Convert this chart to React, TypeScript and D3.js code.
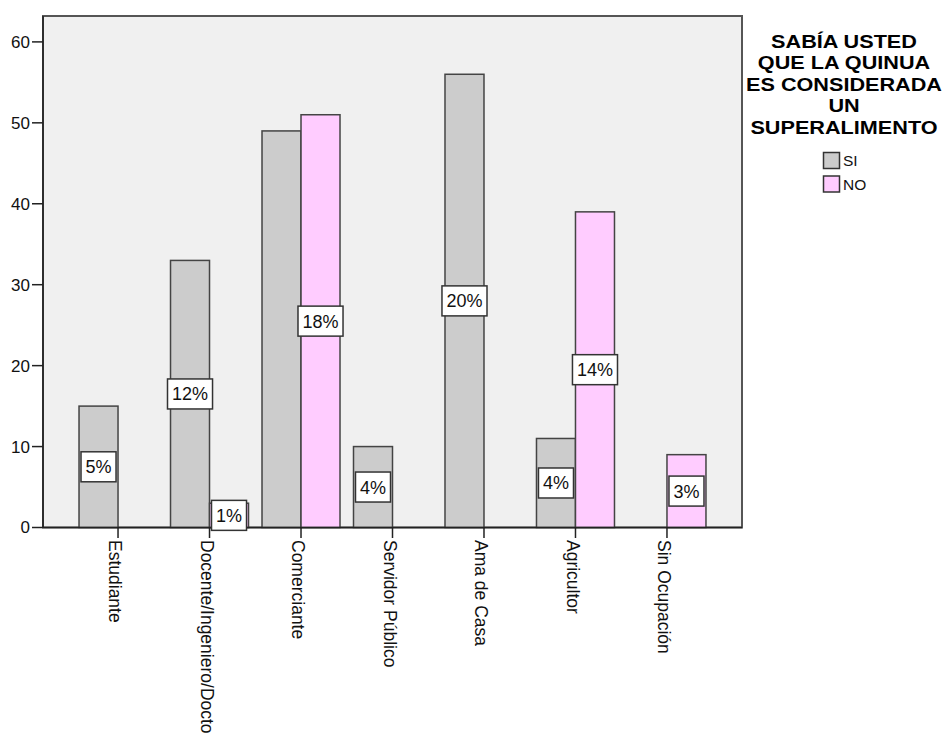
import React, { useEffect, useRef } from "react";
import * as d3 from "d3";

// Occupation categories and counts per answer
const categories = [
  "Estudiante",
  "Docente/Ingeniero/Docto",
  "Comerciante",
  "Servidor Público",
  "Ama de Casa",
  "Agricultor",
  "Sin Ocupación",
];
const siValues = [15, 33, 49, 10, 56, 11, 0];
const noValues = [0, 3, 51, 0, 0, 39, 9];
const seriesNames = ["SI", "NO"];
const yTicks = [0, 10, 20, 30, 40, 50, 60];
const legendTitle = ["SABÍA USTED", "QUE LA QUINUA", "ES CONSIDERADA", "UN", "SUPERALIMENTO"];

const W = 945;
const H = 740;
const FONT = "'Liberation Sans', Arial, sans-serif";

export default function App() {
  const ref = useRef<SVGSVGElement>(null);

  useEffect(() => {
    const svg = d3.select(ref.current);
    svg.selectAll("*").remove();

    const left = 43, right = 742, top = 16, bottom = 527.5;
    const barW = 39;

    const x = d3.scalePoint<string>().domain(categories).range([left, right]).padding(0.82);
    const y = d3.scaleLinear().domain([0, 63.2]).range([bottom, top]);

    const total = d3.sum(siValues) + d3.sum(noValues);
    const fills = ["#cccccc", "#ffccff"];

    // plot background and frame
    svg.append("rect")
      .attr("x", left).attr("y", top)
      .attr("width", right - left).attr("height", bottom - top)
      .attr("fill", "#f0f0f0").attr("stroke", "#555").attr("stroke-width", 2);

    // bars
    const series = [siValues, noValues];
    series.forEach((vals, si) => {
      svg.append("g").selectAll("rect")
        .data(categories.map((c, i) => ({ c, v: vals[i] })).filter((d) => d.v > 0))
        .join("rect")
        .attr("x", (d) => (x(d.c) as number) + (si === 0 ? -barW : 0))
        .attr("y", (d) => y(d.v))
        .attr("width", barW)
        .attr("height", (d) => bottom - y(d.v))
        .attr("fill", fills[si])
        .attr("stroke", "#444")
        .attr("stroke-width", 1.5);
    });

    // axes lines
    svg.append("line").attr("x1", left).attr("x2", left).attr("y1", top).attr("y2", bottom)
      .attr("stroke", "#222").attr("stroke-width", 1.5);
    svg.append("line").attr("x1", left).attr("x2", right).attr("y1", bottom).attr("y2", bottom)
      .attr("stroke", "#222").attr("stroke-width", 1.5);

    // y ticks
    const yg = svg.append("g");
    yTicks.forEach((t) => {
      yg.append("line").attr("x1", 32).attr("x2", left).attr("y1", y(t)).attr("y2", y(t))
        .attr("stroke", "#222").attr("stroke-width", 1.5);
      yg.append("text").attr("x", 30).attr("y", y(t)).attr("dy", "0.35em")
        .attr("text-anchor", "end").attr("font-family", FONT).attr("font-size", 17)
        .attr("fill", "#111").text(String(t));
    });

    // x ticks and rotated labels
    const xg = svg.append("g");
    categories.forEach((c) => {
      const cx = x(c) as number;
      xg.append("line").attr("x1", cx).attr("x2", cx).attr("y1", bottom).attr("y2", 538)
        .attr("stroke", "#222").attr("stroke-width", 1.5);
      xg.append("text")
        .attr("transform", `translate(${cx},540) rotate(90)`)
        .attr("dy", "0.5em")
        .attr("font-family", FONT).attr("font-size", 17.5).attr("fill", "#111")
        .text(c);
    });

    // value labels (percent of total), skipping ones that would overlap
    const placed: { x0: number; x1: number; y0: number; y1: number }[] = [];
    const lg = svg.append("g");
    [1, 0].forEach((si) => {
      const vals = series[si];
      categories.forEach((c, i) => {
        const v = vals[i];
        if (v <= 0) return;
        const cx = (x(c) as number) + (si === 0 ? -barW / 2 : barW / 2);
        const cy = y(v / 2);
        const label = `${Math.round((v / total) * 100)}%`;
        const g = lg.append("g");
        const t = g.append("text").attr("x", cx).attr("y", cy).attr("dy", "0.36em")
          .attr("text-anchor", "middle").attr("font-family", FONT).attr("font-size", 18)
          .attr("fill", "#111").text(label);
        const tw = (t.node() as SVGTextElement).getComputedTextLength();
        const bw = tw + 9, bh = 30;
        const box = { x0: cx - bw / 2, x1: cx + bw / 2, y0: cy - bh / 2, y1: cy + bh / 2 };
        const hit = placed.some((p) => box.x0 < p.x1 && box.x1 > p.x0 && box.y0 < p.y1 && box.y1 > p.y0);
        if (hit) { g.remove(); return; }
        placed.push(box);
        g.insert("rect", "text").attr("x", box.x0).attr("y", box.y0)
          .attr("width", bw).attr("height", bh)
          .attr("fill", "#fff").attr("stroke", "#333").attr("stroke-width", 1.5);
      });
    });

    // legend title: tight, slightly widened bold lines
    const leg = svg.append("g");
    legendTitle.forEach((line, i) => {
      leg.append("text")
        .attr("transform", `translate(844,${48 + i * 21.4}) scale(1.17,1)`)
        .attr("text-anchor", "middle").attr("font-family", FONT)
        .attr("font-weight", "bold").attr("font-size", 18.5).attr("fill", "#000")
        .text(line);
    });
    seriesNames.forEach((n, i) => {
      const yy = 152.5 + i * 23.5;
      leg.append("rect").attr("x", 823.5).attr("y", yy).attr("width", 16).attr("height", 16)
        .attr("fill", fills[i]).attr("stroke", "#333").attr("stroke-width", 1.5);
      leg.append("text").attr("x", 843).attr("y", yy + 8).attr("dy", "0.36em")
        .attr("font-family", FONT).attr("font-size", 15.5).attr("fill", "#111").text(n);
    });
  }, []);

  return (
    <svg
      ref={ref}
      width={W}
      height={H}
      style={{ position: "absolute", left: 0, top: 0, background: "#fff" }}
    />
  );
}
